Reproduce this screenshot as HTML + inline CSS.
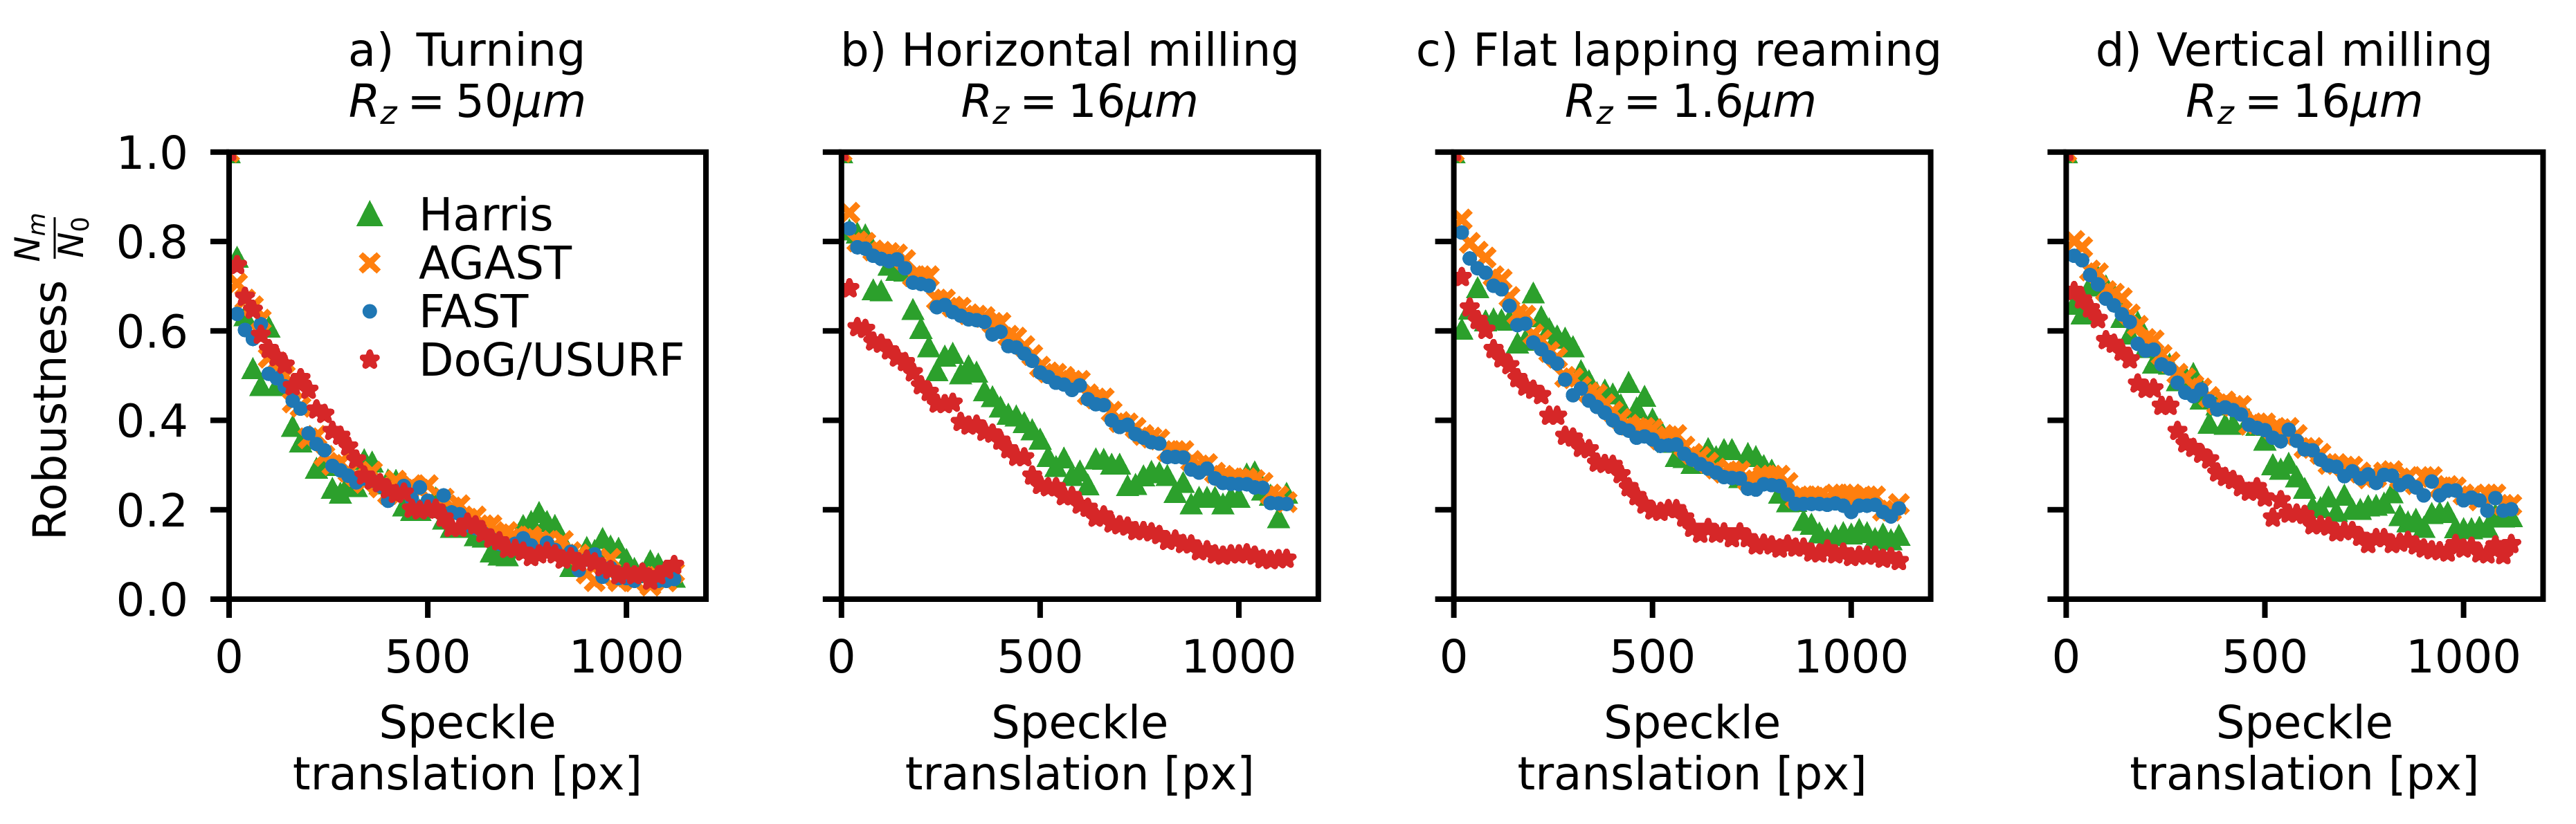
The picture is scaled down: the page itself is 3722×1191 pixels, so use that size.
<!DOCTYPE html>
<html lang="en">
<head>
<meta charset="utf-8">
<title>Feature detector robustness versus speckle translation</title>
<style>
html,body{margin:0;padding:0;background:#fff;width:3722px;height:1191px;overflow:hidden}
svg{display:block}
text{font-family:"DejaVu Sans","Liberation Sans",sans-serif;fill:#000}
</style>
</head>
<body>
<svg id="figure" xmlns="http://www.w3.org/2000/svg" width="3722" height="1191" viewBox="0 0 3722 1191">
  <rect x="0" y="0" width="3722" height="1191" fill="#ffffff"/>
  <g id="panels"></g>

  <g>
    <text transform="translate(95,781) rotate(-90)" font-size="65.6">Robustness</text>
    <text transform="translate(57,343) rotate(-90)" font-size="50" text-anchor="middle"><tspan font-style="italic">N</tspan><tspan font-style="italic" font-size="35" dy="8">m</tspan></text>
    <rect x="77.5" y="314" width="3" height="60" fill="#000"/>
    <text transform="translate(120,343) rotate(-90)" font-size="50" text-anchor="middle"><tspan font-style="italic">N</tspan><tspan font-size="35" dy="8">0</tspan></text>
  </g>

  <g>
    <text x="675" y="95" font-size="65.6" text-anchor="middle" word-spacing="10" letter-spacing="0.7">a) Turning</text>
    <text x="675.5" y="169" font-size="65.6" text-anchor="middle"><tspan font-style="italic">R</tspan><tspan font-style="italic" font-size="46" dy="10">z</tspan><tspan dy="-10" word-spacing="-6"> = 50</tspan><tspan font-style="italic">μm</tspan></text>
  </g>
  <g>
    <text x="1546" y="95" font-size="65.6" text-anchor="middle">b) Horizontal milling</text>
    <text x="1560.3" y="169" font-size="65.6" text-anchor="middle"><tspan font-style="italic">R</tspan><tspan font-style="italic" font-size="46" dy="10">z</tspan><tspan dy="-10" word-spacing="-6"> = 16</tspan><tspan font-style="italic">μm</tspan></text>
  </g>
  <g>
    <text x="2426" y="95" font-size="65.6" text-anchor="middle">c) Flat lapping reaming</text>
    <text x="2443" y="169" font-size="65.6" text-anchor="middle"><tspan font-style="italic">R</tspan><tspan font-style="italic" font-size="46" dy="10">z</tspan><tspan dy="-10" word-spacing="-6"> = 1.6</tspan><tspan font-style="italic">μm</tspan></text>
  </g>
  <g>
    <text x="3315" y="95" font-size="65.6" text-anchor="middle">d) Vertical milling</text>
    <text x="3329.9" y="169" font-size="65.6" text-anchor="middle"><tspan font-style="italic">R</tspan><tspan font-style="italic" font-size="46" dy="10">z</tspan><tspan dy="-10" word-spacing="-6"> = 16</tspan><tspan font-style="italic">μm</tspan></text>
  </g>

  <g>
    <text x="675.5" y="1067" font-size="65.6" text-anchor="middle">Speckle</text>
    <text x="675.5" y="1141" font-size="65.6" text-anchor="middle">translation [px]</text>
  </g>
  <g>
    <text x="1560.3" y="1067" font-size="65.6" text-anchor="middle">Speckle</text>
    <text x="1560.3" y="1141" font-size="65.6" text-anchor="middle">translation [px]</text>
  </g>
  <g>
    <text x="2445.1" y="1067" font-size="65.6" text-anchor="middle">Speckle</text>
    <text x="2445.1" y="1141" font-size="65.6" text-anchor="middle">translation [px]</text>
  </g>
  <g>
    <text x="3329.9" y="1067" font-size="65.6" text-anchor="middle">Speckle</text>
    <text x="3329.9" y="1141" font-size="65.6" text-anchor="middle">translation [px]</text>
  </g>

  <g>
    <polygon shape-rendering="crispEdges" points="534.3,289 514.8,327 553.8,327" fill="#2ca02c"/>
    <text x="605" y="333" font-size="65.6">Harris</text>
    <polygon shape-rendering="crispEdges" points="524.3,364.5 518.3,370.5 527.8,380 518.3,389.5 524.3,395.5 534.3,386.5 544.3,395.5 550.3,389.5 540.8,380 550.3,370.5 544.3,364.5 534.3,373.5" fill="#ff7f0e"/>
    <text x="605" y="403" font-size="65.6">AGAST</text>
    <circle cx="534.3" cy="450" r="10.5" fill="#1f77b4"/>
    <text x="605" y="473" font-size="65.6">FAST</text>
    <polygon shape-rendering="crispEdges" points="534.3,509.5 536.7,516.8 544.3,516.8 538.1,521.2 540.5,528.5 534.3,524 528.1,528.5 530.5,521.2 524.3,516.8 531.9,516.8" fill="#d62728" stroke="#d62728" stroke-width="9" stroke-linejoin="round"/>
    <text x="605" y="543" font-size="65.6">DoG/USURF</text>
  </g>
</svg>

<script>
// Shared categories and tick labels
const translations = [0,20,40,60,80,100,120,140,160,180,200,220,240,260,280,300,320,340,360,380,400,420,440,460,480,500,520,540,560,580,600,620,640,660,680,700,720,740,760,780,800,820,840,860,880,900,920,940,960,980,1000,1020,1040,1060,1080,1100,1120];
const xTickValues = [0,500,1000];
const xTickLabels = ['0','500','1000'];
const yTickValues = [0,0.2,0.4,0.6,0.8,1];
const yTickLabels = ['0.0','0.2','0.4','0.6','0.8','1.0'];

// a) Turning
const harrisTurning = [1,.766,.635,.517,.479,.61,.479,.482,.388,.353,.36,.294,.30,.249,.238,.26,.253,.313,.308,.259,.268,.267,.21,.20,.20,.206,.228,.18,.162,.162,.165,.143,.14,.107,.10,.098,.115,.166,.175,.195,.175,.166,.13,.074,.074,.117,.11,.137,.12,.115,.09,.07,.06,.087,.08,.06,.05];
const agastTurning = [1,.706,.67,.655,.625,.54,.53,.50,.44,.43,.36,.365,.32,.30,.305,.285,.275,.26,.285,.25,.235,.265,.245,.255,.245,.255,.21,.225,.205,.21,.18,.185,.165,.165,.145,.15,.14,.135,.14,.13,.13,.12,.13,.105,.10,.057,.04,.05,.09,.04,.05,.04,.05,.03,.05,.04,.06];
const fastTurning = [1,.638,.602,.582,.615,.504,.494,.476,.444,.426,.371,.347,.333,.298,.288,.276,.261,.27,.265,.253,.22,.241,.253,.224,.25,.22,.20,.232,.194,.19,.165,.159,.147,.135,.124,.118,.124,.136,.12,.106,.126,.11,.094,.106,.065,.088,.10,.05,.07,.047,.047,.041,.053,.047,.041,.041,.045];
const dogTurning = [1,.747,.676,.647,.591,.559,.541,.524,.476,.494,.468,.424,.414,.376,.365,.341,.312,.276,.265,.259,.245,.235,.238,.202,.198,.20,.202,.182,.159,.159,.171,.165,.147,.135,.129,.112,.112,.106,.094,.10,.106,.10,.088,.094,.082,.088,.082,.071,.065,.053,.059,.053,.059,.041,.053,.065,.076];

// b) Horizontal milling
const harrisHorizontal = [1,.827,.82,.816,.693,.691,.748,.737,.735,.649,.607,.566,.512,.545,.551,.505,.523,.509,.467,.454,.431,.415,.411,.396,.38,.359,.32,.298,.317,.278,.288,.257,.315,.314,.303,.303,.255,.258,.277,.287,.284,.278,.24,.262,.214,.229,.229,.229,.214,.229,.229,.281,.286,.245,.234,.183,.238];
const agastHorizontal = [1,.864,.80,.797,.78,.777,.774,.771,.758,.722,.722,.722,.67,.67,.654,.652,.637,.634,.631,.618,.618,.589,.585,.566,.546,.52,.507,.504,.497,.488,.488,.458,.449,.449,.419,.396,.393,.383,.367,.361,.357,.331,.331,.331,.309,.299,.302,.283,.276,.27,.27,.27,.266,.26,.234,.23,.217];
const fastHorizontal = [1,.829,.787,.784,.768,.761,.756,.76,.74,.708,.705,.701,.653,.658,.642,.634,.626,.624,.62,.592,.598,.566,.563,.549,.533,.507,.497,.484,.48,.468,.478,.447,.436,.434,.40,.385,.39,.369,.361,.351,.348,.318,.318,.317,.29,.283,.292,.27,.26,.258,.257,.257,.25,.249,.215,.214,.213];
const dogHorizontal = [1,.695,.608,.604,.576,.571,.556,.54,.53,.507,.478,.463,.437,.436,.439,.396,.388,.39,.374,.37,.354,.335,.318,.317,.276,.255,.25,.25,.23,.23,.211,.204,.182,.187,.169,.165,.162,.152,.152,.149,.143,.13,.133,.123,.122,.107,.109,.10,.097,.10,.10,.102,.097,.089,.087,.089,.09];

// c) Flat lapping reaming
const harrisLapping = [1,.605,.65,.698,.624,.628,.626,.625,.574,.58,.686,.633,.606,.59,.585,.566,.512,.49,.463,.469,.46,.436,.486,.429,.455,.404,.38,.352,.32,.318,.305,.32,.338,.32,.336,.336,.273,.327,.32,.30,.29,.238,.219,.22,.177,.169,.149,.136,.143,.15,.147,.157,.15,.137,.147,.134,.144];
const agastLapping = [1,.849,.797,.777,.764,.722,.715,.676,.637,.634,.592,.579,.553,.54,.497,.494,.475,.462,.458,.436,.419,.403,.39,.383,.383,.38,.357,.364,.367,.341,.325,.318,.305,.292,.283,.286,.286,.266,.266,.276,.276,.276,.26,.227,.23,.23,.23,.227,.234,.234,.234,.227,.23,.23,.198,.198,.213];
const fastLapping = [1,.82,.762,.74,.73,.701,.693,.656,.613,.616,.574,.559,.541,.527,.491,.456,.471,.444,.43,.417,.40,.383,.377,.361,.364,.357,.343,.344,.346,.325,.312,.302,.292,.283,.273,.271,.27,.247,.245,.257,.255,.253,.234,.213,.213,.213,.213,.211,.214,.209,.195,.209,.209,.211,.195,.185,.203];
const dogLapping = [1,.72,.652,.624,.602,.559,.538,.523,.494,.475,.468,.456,.41,.41,.365,.361,.338,.335,.305,.302,.30,.279,.25,.23,.211,.198,.195,.201,.201,.182,.159,.146,.159,.146,.149,.136,.149,.136,.12,.124,.12,.113,.122,.115,.115,.104,.102,.111,.10,.104,.094,.097,.097,.097,.09,.094,.085];

// d) Vertical milling
const harrisVertical = [1,.661,.639,.702,.722,.702,.683,.631,.594,.621,.564,.529,.54,.527,.49,.50,.506,.449,.395,.436,.392,.392,.429,.403,.39,.357,.302,.292,.305,.275,.249,.208,.206,.23,.197,.234,.202,.202,.21,.211,.216,.239,.188,.174,.18,.162,.193,.195,.195,.161,.159,.159,.162,.162,.19,.185,.186];
const agastVertical = [1,.801,.787,.735,.729,.689,.683,.673,.637,.611,.582,.579,.546,.53,.504,.494,.478,.471,.452,.436,.442,.432,.432,.39,.393,.393,.38,.38,.383,.367,.338,.338,.325,.302,.302,.296,.296,.283,.27,.273,.283,.286,.27,.273,.257,.273,.273,.25,.253,.25,.234,.23,.221,.234,.234,.211,.211];
const fastVertical = [1,.768,.758,.725,.704,.672,.657,.637,.62,.571,.556,.558,.525,.516,.484,.462,.454,.469,.443,.424,.429,.423,.413,.39,.383,.378,.361,.353,.379,.354,.335,.333,.312,.299,.296,.275,.286,.27,.279,.26,.278,.276,.255,.263,.25,.232,.263,.232,.243,.243,.221,.227,.221,.198,.226,.198,.201];
const dogVertical = [1,.689,.67,.65,.626,.579,.571,.553,.536,.482,.47,.471,.432,.432,.376,.348,.338,.325,.312,.283,.273,.266,.25,.24,.25,.227,.182,.221,.191,.191,.188,.165,.165,.162,.149,.152,.152,.139,.123,.136,.136,.123,.126,.13,.12,.113,.109,.107,.104,.123,.113,.117,.102,.10,.12,.098,.123];

const panelKeys = ['a','b','c','d'];
const harrisPanels = [harrisTurning,harrisHorizontal,harrisLapping,harrisVertical];
const agastPanels = [agastTurning,agastHorizontal,agastLapping,agastVertical];
const fastPanels = [fastTurning,fastHorizontal,fastLapping,fastVertical];
const dogPanels = [dogTurning,dogHorizontal,dogLapping,dogVertical];

// Layout
const SVG_NS = 'http://www.w3.org/2000/svg';
const plotTop = 219.8, plotBottom = 866, plotWidth = 689, firstLeft = 331, panelStep = 884.8;
const xMax = 1200, yMax = 1;
const tickLen = 27, lineW = 8;

function panelLeft(i){ return firstLeft + i * panelStep; }
function xAxis(i, v){ return panelLeft(i) + v / xMax * plotWidth; }
function yAxis(v){ return plotBottom - v / yMax * (plotBottom - plotTop); }

function make(tag, attrs, parent){
  const el = document.createElementNS(SVG_NS, tag);
  for (const k in attrs) el.setAttribute(k, attrs[k]);
  parent.appendChild(el);
  return el;
}

function starPoints(cx, cy, R){
  const pts = [], r = R * 0.381;
  for (let i = 0; i < 10; i++){
    const a = -Math.PI/2 + i * Math.PI/5, q = i % 2 ? r : R;
    pts.push((cx + q*Math.cos(a)).toFixed(1) + ',' + (cy + q*Math.sin(a)).toFixed(1));
  }
  return pts.join(' ');
}
function crossPoints(cx, cy){
  const a = 16, d = 6.5;
  const p = [[a-d,-a],[a,-(a-d)],[d,0],[a,a-d],[a-d,a],[0,d],[-(a-d),a],[-a,a-d],[-d,0],[-a,-(a-d)],[-(a-d),-a],[0,-d]];
  return p.map(function(q){ return (cx+q[0]).toFixed(1) + ',' + (cy+q[1]).toFixed(1); }).join(' ');
}
function trianglePoints(cx, cy){
  return cx.toFixed(1)+','+(cy-16).toFixed(1)+' '+(cx-17).toFixed(1)+','+(cy+16).toFixed(1)+' '+(cx+17).toFixed(1)+','+(cy+16).toFixed(1);
}

const root = document.getElementById('panels');

panelKeys.forEach(function(key, i){
  const left = panelLeft(i), right = left + plotWidth;
  const panel = make('g', {}, root);
  
  

  const defs = make('defs', {}, panel);
  const clip = make('clipPath', {id: 'clip-' + key}, defs);
  make('rect', {x: left, y: plotTop, width: plotWidth, height: plotBottom - plotTop}, clip);

  const marks = make('g', {'clip-path': 'url(#clip-' + key + ')', 'shape-rendering': 'crispEdges'}, panel);
  
  

  const harrisGroup = make('g', {fill: '#2ca02c'}, marks);
  
  
  harrisPanels[i].forEach(function(v, k){
    const el = make('polygon', {points: trianglePoints(xAxis(i, translations[k]), yAxis(v))}, harrisGroup);
    
    
  });

  const agastGroup = make('g', {fill: '#ff7f0e'}, marks);
  
  
  agastPanels[i].forEach(function(v, k){
    const el = make('polygon', {points: crossPoints(xAxis(i, translations[k]), yAxis(v))}, agastGroup);
    
    
  });

  const fastGroup = make('g', {fill: '#1f77b4'}, marks);
  
  
  fastPanels[i].forEach(function(v, k){
    const el = make('circle', {cx: xAxis(i, translations[k]).toFixed(1), cy: yAxis(v).toFixed(1), r: 10.5}, fastGroup);
    
    
  });

  const dogGroup = make('g', {fill: '#d62728', stroke: '#d62728', 'stroke-width': 9, 'stroke-linejoin': 'round'}, marks);
  
  
  dogPanels[i].forEach(function(v, k){
    const el = make('polygon', {points: starPoints(xAxis(i, translations[k]), yAxis(v), 10.5)}, dogGroup);
    
    
  });

  const frame = make('rect', {x: left, y: plotTop, width: plotWidth, height: plotBottom - plotTop, fill: 'none', stroke: '#000', 'stroke-width': lineW}, panel);
  
  

  yTickValues.forEach(function(v, t){
    const tick = make('rect', {x: left - tickLen, y: yAxis(v) - lineW/2, width: tickLen, height: lineW, fill: '#000'}, panel);
    
    
    if (i === 0){
      const label = make('text', {x: 272, y: yAxis(v) + 24, 'font-size': 65.6, 'text-anchor': 'end'}, panel);
      
      
      label.textContent = yTickLabels[t];
    }
  });

  xTickValues.forEach(function(v, t){
    const tick = make('rect', {x: xAxis(i, v) - lineW/2, y: plotBottom, width: lineW, height: tickLen, fill: '#000'}, panel);
    
    
    const label = make('text', {x: xAxis(i, v), y: 972, 'font-size': 65.6, 'text-anchor': 'middle'}, panel);
    
    
    label.textContent = xTickLabels[t];
  });
});
</script>
</body>
</html>
